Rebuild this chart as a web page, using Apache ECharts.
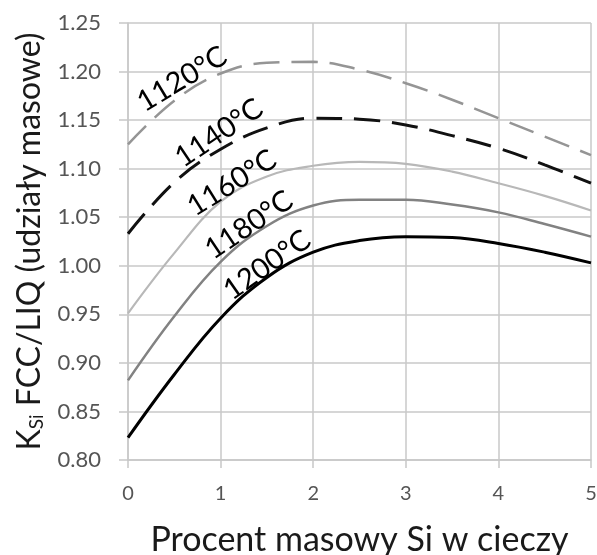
<!DOCTYPE html>
<html>
<head>
<meta charset="utf-8">
<script src="https://cdn.jsdelivr.net/npm/echarts@6/dist/echarts.min.js"></script>
<style>
    html, body { margin: 0; padding: 0; background: #fff; }
    #chart { width: 597px; height: 555px; }
</style>
</head>
<body>
<div id="chart"></div>
<script>
// procent masowy Si
const siPercent = [0, 0.5, 1, 1.5, 2, 2.5, 3, 3.5, 4, 4.5, 5];

// K_Si FCC/LIQ for each temperature
const k1120 = [1.125, 1.170, 1.198, 1.209, 1.210, 1.202, 1.188, 1.171, 1.152, 1.133, 1.114];
const k1140 = [1.033, 1.086, 1.120, 1.142, 1.152, 1.151, 1.145, 1.134, 1.121, 1.104, 1.085];
const k1160 = [0.951, 1.013, 1.066, 1.092, 1.103, 1.107, 1.105, 1.097, 1.085, 1.072, 1.057];
const k1180 = [0.882, 0.948, 1.004, 1.041, 1.062, 1.068, 1.068, 1.063, 1.055, 1.043, 1.030];
const k1200 = [0.823, 0.888, 0.946, 0.988, 1.014, 1.026, 1.030, 1.029, 1.023, 1.014, 1.003];

const tempLabels = ['1120°C', '1140°C', '1160°C', '1180°C', '1200°C'];

displayChart();

function displayChart() {
    let myChart = echarts.init(document.getElementById('chart'));

    const pairs = (ys) => siPercent.map((x, i) => [x, ys[i]]);
    const font = 'Lato, "Open Sans", sans-serif';

    function curve(name, ys, color, width, dashed) {
        return {
            name: name,
            type: 'line',
            smooth: 0.4,
            showSymbol: false,
            data: pairs(ys),
            lineStyle: {
                color: color,
                width: width,
                type: dashed ? [26, 12] : 'solid'
            }
        };
    }

    // label placement [x, y, rotation in degrees]
    const labelPos = [
        [182, 79, 31],
        [219, 133, 34],
        [232, 183, 32],
        [249, 225, 34],
        [267, 265, 35]
    ];

    let option = {
        animation: false,
        grid: { left: 128, right: 6, top: 23, bottom: 95, outerBoundsMode: 'none' },
        xAxis: {
            type: 'value',
            min: 0,
            max: 5,
            interval: 1,
            name: 'Procent masowy Si w cieczy',
            nameLocation: 'middle',
            nameGap: 63,
            nameTextStyle: { fontSize: 34, color: '#1a1a1a', fontFamily: font },
            axisLine: { show: true, lineStyle: { color: '#c8c8c8', width: 1.5 } },
            axisTick: { show: true, length: 8, lineStyle: { color: '#c8c8c8', width: 1.5 } },
            axisLabel: { fontSize: 20, color: '#555', margin: 24, fontFamily: font },
            splitLine: { show: true, lineStyle: { color: '#c8c8c8', width: 1.5 } }
        },
        yAxis: {
            type: 'value',
            min: 0.8,
            max: 1.25,
            interval: 0.05,
            name: '{main|K}{sub|Si}{main| FCC/LIQ (udziały masowe)}',
            nameLocation: 'middle',
            nameRotate: 90,
            nameGap: 82,
            nameTextStyle: {
                rich: {
                    main: { fontSize: 32, color: '#1a1a1a', fontFamily: font, verticalAlign: 'bottom', lineHeight: 38 },
                    sub: { fontSize: 19, color: '#1a1a1a', fontFamily: font, verticalAlign: 'bottom', lineHeight: 27 }
                }
            },
            axisLine: { show: true, lineStyle: { color: '#c8c8c8', width: 1.5 } },
            axisTick: { show: true, length: 9, lineStyle: { color: '#c8c8c8', width: 1.5 } },
            axisLabel: {
                fontSize: 22,
                color: '#555',
                margin: 27,
                fontFamily: font,
                formatter: (v) => v.toFixed(2)
            },
            splitLine: { show: true, lineStyle: { color: '#c8c8c8', width: 1.5 } }
        },
        series: [
            curve(tempLabels[0], k1120, '#959595', 2.5, true),
            curve(tempLabels[1], k1140, '#111111', 3, true),
            curve(tempLabels[2], k1160, '#b8b8b8', 2.2, false),
            curve(tempLabels[3], k1180, '#828282', 2.5, false),
            curve(tempLabels[4], k1200, '#000000', 3, false)
        ],
        graphic: tempLabels.map((t, i) => ({
            type: 'text',
            x: labelPos[i][0],
            y: labelPos[i][1],
            rotation: labelPos[i][2] * Math.PI / 180,
            z: 100,
            style: {
                text: t,
                fontSize: 29,
                fontFamily: font,
                fill: '#000',
                align: 'center',
                verticalAlign: 'middle'
            }
        }))
    };

    myChart.setOption(option);
}
</script>
</body>
</html>
